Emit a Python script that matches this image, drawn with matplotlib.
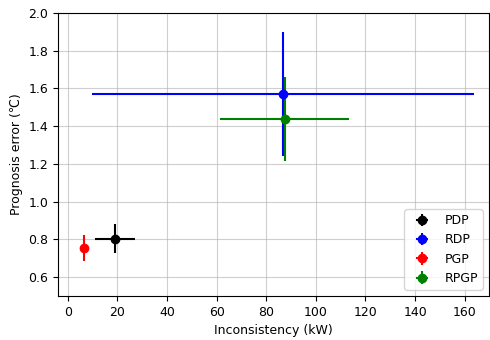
import matplotlib
matplotlib.use("Agg")
import matplotlib.pyplot as plt

labels = ["PDP", "RDP", "PGP", "RPGP"]
colors = ["black", "blue", "red", "green"]
inconsistency = [19.0, 86.7, 6.5, 87.5]
inconsistency_err = [8.0, 77.0, 1.6, 26.0]
prognosis_error = [0.805, 1.57, 0.755, 1.438]
prognosis_err = [0.075, 0.33, 0.068, 0.22]

plt.rcParams["font.size"] = 9
fig, ax = plt.subplots(figsize=(4.9, 3.4), dpi=100)
for i, lab in enumerate(labels):
    ax.errorbar(
        inconsistency[i],
        prognosis_error[i],
        xerr=inconsistency_err[i],
        yerr=prognosis_err[i],
        fmt="o",
        color=colors[i],
        label=lab,
    )
ax.set_xlim(-4, 169.8)
ax.set_ylim(0.5, 2.0)
ax.grid(True, color="#b0b0b0", alpha=0.6)
ax.set_axisbelow(True)
ax.set_xlabel("Inconsistency (kW)")
ax.set_ylabel("Prognosis error (\u2103)")
ax.legend(loc="lower right")
fig.subplots_adjust(left=0.118, right=0.998, top=0.962, bottom=0.129)
fig.savefig("out.png", dpi=100)
